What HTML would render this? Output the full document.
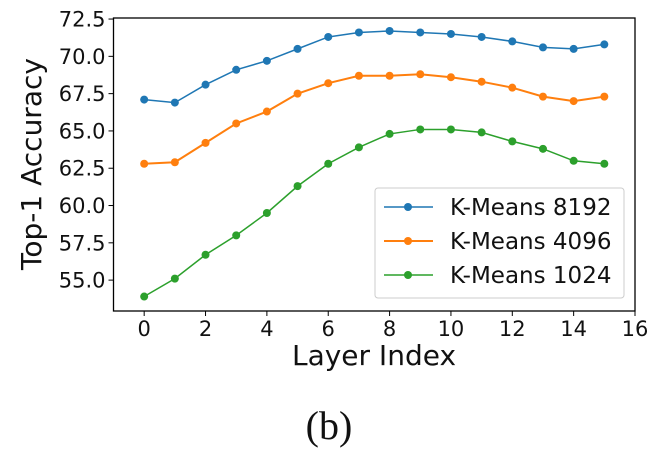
<!DOCTYPE html>
<html><head><meta charset="utf-8"><style>
body{margin:0;background:#fff;width:660px;height:450px;overflow:hidden}
svg text{font-family:"DejaVu Sans","Liberation Sans",sans-serif;fill:#111}
</style></head><body>
<svg id="chart" width="660" height="450" xmlns="http://www.w3.org/2000/svg"></svg>
<script>
const layers=[0,1,2,3,4,5,6,7,8,9,10,11,12,13,14,15];
const km8192=[67.1,66.9,68.1,69.1,69.7,70.5,71.3,71.6,71.7,71.6,71.5,71.3,71.0,70.6,70.5,70.8];
const km4096=[62.8,62.9,64.2,65.5,66.3,67.5,68.2,68.7,68.7,68.8,68.6,68.3,67.9,67.3,67.0,67.3];
const km1024=[53.9,55.1,56.7,58.0,59.5,61.3,62.8,63.9,64.8,65.1,65.1,64.9,64.3,63.8,63.0,62.8];
const xTicks=[0,2,4,6,8,10,12,14,16];
const yTicks=[55.0,57.5,60.0,62.5,65.0,67.5,70.0,72.5];
const seriesNames=["K-Means 8192","K-Means 4096","K-Means 1024"];
const NS="http://www.w3.org/2000/svg";
const svg=document.getElementById('chart');
const L=113.5,R=635,T=18,B=311;
const xMin=-1,xMax=16,yMin=52.93,yMax=72.57;
const sx=v=>L+(v-xMin)/(xMax-xMin)*(R-L);
const sy=v=>B-(v-yMin)/(yMax-yMin)*(B-T);
function mk(tag,attrs,parent){const e=document.createElementNS(NS,tag);for(const k in attrs)e.setAttribute(k,attrs[k]);(parent||svg).appendChild(e);return e;}
const colors=["#1f77b4","#ff7f0e","#2ca02c"];
const data=[km8192,km4096,km1024];
data.forEach((s,i)=>{
  const g=mk('g',{});
  
  
  const p=mk('polyline',{points:s.map((v,j)=>sx(layers[j])+','+sy(v)).join(' '),fill:'none',stroke:colors[i],'stroke-width':i==1?2:1.5},g);
  
  
  s.forEach((v,j)=>{const c=mk('circle',{cx:sx(layers[j]),cy:sy(v),r:4,fill:colors[i]},g);
    
    });
});
const ax=mk('rect',{x:L,y:T,width:R-L,height:B-T,fill:'none',stroke:'#000','stroke-width':1.3});


xTicks.forEach(t=>{const x=sx(t);mk('line',{x1:x,x2:x,y1:B,y2:B+5,stroke:'#000'});
  const tx=mk('text',{x:x,y:336,'text-anchor':'middle','font-size':21});tx.textContent=t;
  
  });
yTicks.forEach(t=>{const y=sy(t);mk('line',{x1:L-5,x2:L,y1:y,y2:y,stroke:'#000'});
  const tx=mk('text',{x:L-8,y:y+7.5,'text-anchor':'end','font-size':21});tx.textContent=t.toFixed(1);
  
  });
const xl=mk('text',{x:374,y:365,'text-anchor':'middle','font-size':28});xl.textContent='Layer Index';


const yl=mk('text',{x:0,y:0,'text-anchor':'middle','font-size':28,transform:'translate(41,164) rotate(-90)'});yl.textContent='Top-1 Accuracy';


const lg=mk('g',{});


mk('rect',{x:375,y:188,width:249,height:110,rx:3,fill:'#fff','fill-opacity':0.85,stroke:'#ccc'},lg);
seriesNames.forEach((n,i)=>{const y=207+i*34;
  const e=mk('g',{},lg);
  
  
  mk('line',{x1:384,x2:433,y1:y,y2:y,stroke:colors[i],'stroke-width':i==1?2:1.5},e);
  mk('circle',{cx:408,cy:y,r:4,fill:colors[i]},e);
  const t=mk('text',{x:450,y:y+8,'font-size':23},e);t.textContent=n;});
const cap=mk('text',{x:329,y:439,'text-anchor':'middle','font-size':40,style:'font-family:"Liberation Serif",serif'});cap.textContent='(b)';


</script>
</body></html>
